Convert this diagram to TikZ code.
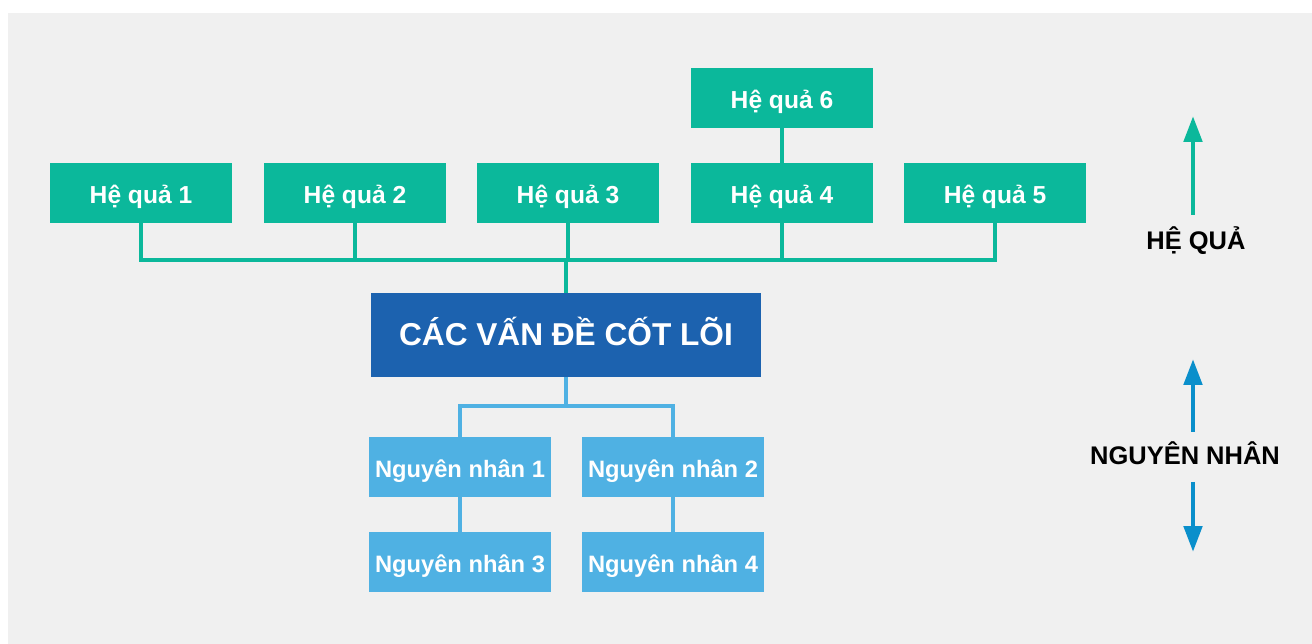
\documentclass[tikz,border=0pt]{standalone}
\usepackage{fontspec}
\setmainfont{Liberation Sans}
\usepackage{tikz}
\usetikzlibrary{arrows.meta}
\definecolor{hqgreen}{HTML}{0BB89B}
\definecolor{coreblue}{HTML}{1C62AF}
\definecolor{nnblue}{HTML}{4FB1E3}
\definecolor{arrblue}{HTML}{0A8FCB}
\definecolor{bggray}{HTML}{F0F0F0}

\begin{document}
\begin{tikzpicture}[x=0.02cm, y=-0.02cm,
  hqbox/.style={fill=hqgreen, text=white, minimum width=3.64cm, minimum height=1.2cm,
    font=\fontsize{14}{16}\selectfont\bfseries, inner sep=0pt, text height=11.4pt, text depth=0pt},
  nnbox/.style={hqbox, fill=nnblue, font=\fontsize{13.5}{16}\selectfont\bfseries},
  hqline/.style={-, color=hqgreen, line width=2.3pt},
  nnline/.style={-, color=nnblue, line width=2.3pt},
  bigarrow/.style={-{Triangle[width=0.36cm, length=0.52cm]}, line width=2.8pt},
  sidelabel/.style={anchor=base, inner sep=0pt, font=\fontsize{14.5}{16}\selectfont\bfseries}]
\useasboundingbox (0,0) rectangle (1312,644);
\fill[bggray] (8,13) rectangle (1312,644);
\coordinate (bartop) at (566,260);
\coordinate (barbot) at (566,406);
 % he qua
 \node[hqbox] (h1) at (141,193) {Hệ quả 1};
 \node[hqbox] (h2) at (355,193) {Hệ quả 2};
 \node[hqbox] (h3) at (568,193) {Hệ quả 3};
 \node[hqbox] (h4) at (782,193) {Hệ quả 4};
 \node[hqbox] (h5) at (995,193) {Hệ quả 5};
 \node[hqbox] (h6) at (782,98) {Hệ quả 6};
 \node[fill=coreblue, text=white, minimum width=7.8cm, minimum height=1.68cm,
   font=\fontsize{18}{20}\selectfont\bfseries, inner sep=0pt, text height=12.4pt, text depth=0pt] (core) at (566,335) {CÁC VẤN ĐỀ CỐT LÕI};
 % nguyen nhan
 \node[nnbox] (n1) at (460,467) {Nguyên nhân 1};
 \node[nnbox] (n2) at (673,467) {Nguyên nhân 2};
 \node[nnbox] (n3) at (460,562) {Nguyên nhân 3};
 \node[nnbox] (n4) at (673,562) {Nguyên nhân 4};
 \draw[hqline] (h1.south) -- (h1.south |- bartop) -- (h5.south |- bartop) -- (h5.south);
 \draw[hqline] (h2.south) -- (h2.south |- bartop);
 \draw[hqline] (h3.south) -- (h3.south |- bartop);
 \draw[hqline] (h4.south) -- (h4.south |- bartop);
 \draw[hqline] (core.north) -- (bartop);
 \draw[hqline] (h6) -- (h4);
 \draw[nnline] (core.south) -- (barbot);
 \draw[nnline] (n1.north) -- (n1.north |- barbot) -- (n2.north |- barbot) -- (n2.north);
 \draw[nnline] (n1) -- (n3);
 \draw[nnline] (n2) -- (n4);
 % side arrows
 \node[sidelabel] (hqlab) at (1196,250) {HỆ QUẢ};
 \node[sidelabel] (nnlab) at (1185,465) {NGUYÊN NHÂN};
 \coordinate (hqtail) at (1193,215);
 \coordinate (hqtip) at (1193,116);
 \coordinate (uptail) at (1193,432);
 \coordinate (uptip) at (1193,359);
 \coordinate (dntail) at (1193,482);
 \coordinate (dntip) at (1193,552);
 \draw[bigarrow, color=hqgreen] (hqtail) -- (hqtip);
 \draw[bigarrow, color=arrblue] (uptail) -- (uptip);
 \draw[bigarrow, color=arrblue] (dntail) -- (dntip);
\end{tikzpicture}
\end{document}
